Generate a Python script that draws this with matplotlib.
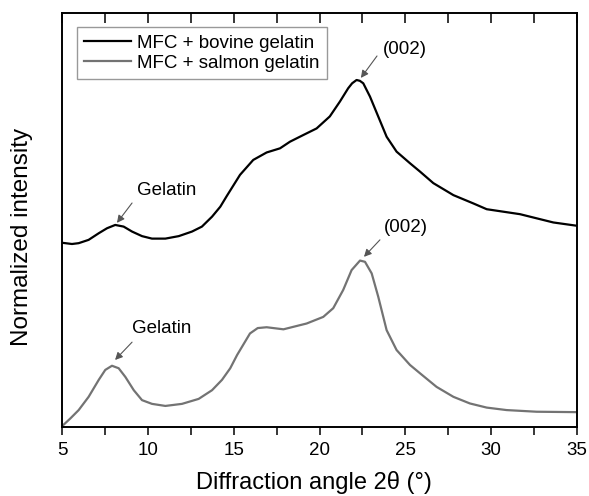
import numpy as np
import matplotlib.pyplot as plt
from matplotlib.ticker import MultipleLocator

plt.rcParams['font.family'] = ['Liberation Sans', 'DejaVu Sans']

# diffraction angle 2theta (deg) and normalized intensity
bovine_x = [5.0, 5.58, 5.97, 6.55, 7.14, 7.62, 8.1, 8.59, 9.08, 9.66, 10.24, 11.02,
            11.8, 12.57, 13.15, 13.74, 14.22, 14.6, 15.37, 16.14, 16.92, 17.7, 18.28,
            19.05, 19.83, 20.6, 21.19, 21.67, 21.9, 22.16, 22.35, 22.55, 22.94, 23.42,
            23.91, 24.49, 25.27, 25.85, 26.63, 27.8, 28.96, 29.74, 30.71, 31.68, 32.65,
            33.62, 35.0]
bovine_y = [0.445, 0.442, 0.444, 0.452, 0.468, 0.480, 0.488, 0.484, 0.472, 0.461,
            0.455, 0.455, 0.461, 0.472, 0.484, 0.508, 0.532, 0.558, 0.609, 0.645,
            0.663, 0.673, 0.689, 0.705, 0.721, 0.750, 0.786, 0.818, 0.830, 0.838,
            0.836, 0.830, 0.798, 0.750, 0.701, 0.665, 0.637, 0.617, 0.589, 0.560,
            0.540, 0.526, 0.520, 0.514, 0.504, 0.494, 0.486]

salmon_x = [5.0, 5.49, 5.97, 6.55, 7.14, 7.52, 7.91, 8.3, 8.69, 9.18, 9.66, 10.24,
            11.02, 11.99, 12.96, 13.74, 14.32, 14.8, 15.2, 15.95, 16.4, 16.92, 17.9,
            18.86, 19.25, 20.22, 20.8, 21.38, 21.87, 22.36, 22.65, 23.04, 23.42, 23.91,
            24.49, 25.27, 25.85, 26.82, 27.8, 28.76, 29.74, 30.9, 32.65, 35.0]
salmon_y = [0.002, 0.021, 0.041, 0.073, 0.114, 0.138, 0.148, 0.142, 0.121, 0.089,
            0.065, 0.056, 0.051, 0.056, 0.068, 0.089, 0.114, 0.142, 0.174, 0.226,
            0.239, 0.241, 0.236, 0.246, 0.250, 0.266, 0.287, 0.331, 0.379, 0.402,
            0.399, 0.371, 0.315, 0.234, 0.186, 0.150, 0.130, 0.097, 0.073, 0.057,
            0.047, 0.041, 0.037, 0.036]

labels = ['MFC + bovine gelatin', 'MFC + salmon gelatin']

fig = plt.figure(figsize=(5.89, 4.96), dpi=100)
ax = fig.add_axes([0.1053, 0.139, 0.8743, 0.835])

ax.plot(bovine_x, bovine_y, color='black', lw=1.6, solid_joinstyle='round',
        label=labels[0])
ax.plot(salmon_x, salmon_y, color='#737373', lw=1.6, solid_joinstyle='round',
        label=labels[1])

arrow = dict(arrowstyle='-|>', color='#555555', lw=0.8, mutation_scale=11,
             shrinkA=0, shrinkB=0)
ax.annotate('', xy=(8.2, 0.493), xytext=(9.08, 0.541), arrowprops=arrow)
ax.text(11.1, 0.570, 'Gelatin', fontsize=13.5, ha='center', va='center')
ax.annotate('', xy=(8.09, 0.162), xytext=(9.08, 0.205), arrowprops=arrow)
ax.text(10.82, 0.237, 'Gelatin', fontsize=13.5, ha='center', va='center')
ax.annotate('', xy=(22.41, 0.843), xytext=(23.35, 0.896), arrowprops=arrow)
ax.text(24.98, 0.911, '(002)', fontsize=13.5, ha='center', va='center')
ax.annotate('', xy=(22.59, 0.411), xytext=(23.52, 0.452), arrowprops=arrow)
ax.text(25.03, 0.483, '(002)', fontsize=13.5, ha='center', va='center')

ax.set_xlim(5, 35)
ax.set_ylim(0, 1)
ax.set_yticks([])
ax.xaxis.set_major_locator(MultipleLocator(5))
ax.xaxis.set_minor_locator(MultipleLocator(2.5))
ax.tick_params(axis='x', which='both', direction='out', length=6, width=1.1,
               labelsize=13.5, pad=5)
for s in ax.spines.values():
    s.set_linewidth(1.2)

# top ticks point inward, bottom ones outward
top = ax.twiny()
top.set_xlim(5, 35)
top.xaxis.set_major_locator(MultipleLocator(2.5))
top.tick_params(axis='x', direction='in', length=7, width=1.1, labeltop=False)
for s in top.spines.values():
    s.set_linewidth(1.2)

ax.set_xlabel('Diffraction angle 2θ (°)', fontsize=17, labelpad=9)
ax.xaxis.set_label_coords(0.49, -0.105)
ax.set_ylabel('Normalized intensity', fontsize=17.5)
ax.yaxis.set_label_coords(-0.056, 0.458)

leg = ax.legend(loc='upper left', bbox_to_anchor=(0.029, 0.966), borderaxespad=0,
                fontsize=13.5, frameon=True, fancybox=False, handlelength=2.5,
                handletextpad=0.3, labelspacing=0.15, borderpad=0.4)
leg.get_frame().set_edgecolor('#808080')
leg.get_frame().set_linewidth(1.0)

plt.savefig('out.png', dpi=100)
